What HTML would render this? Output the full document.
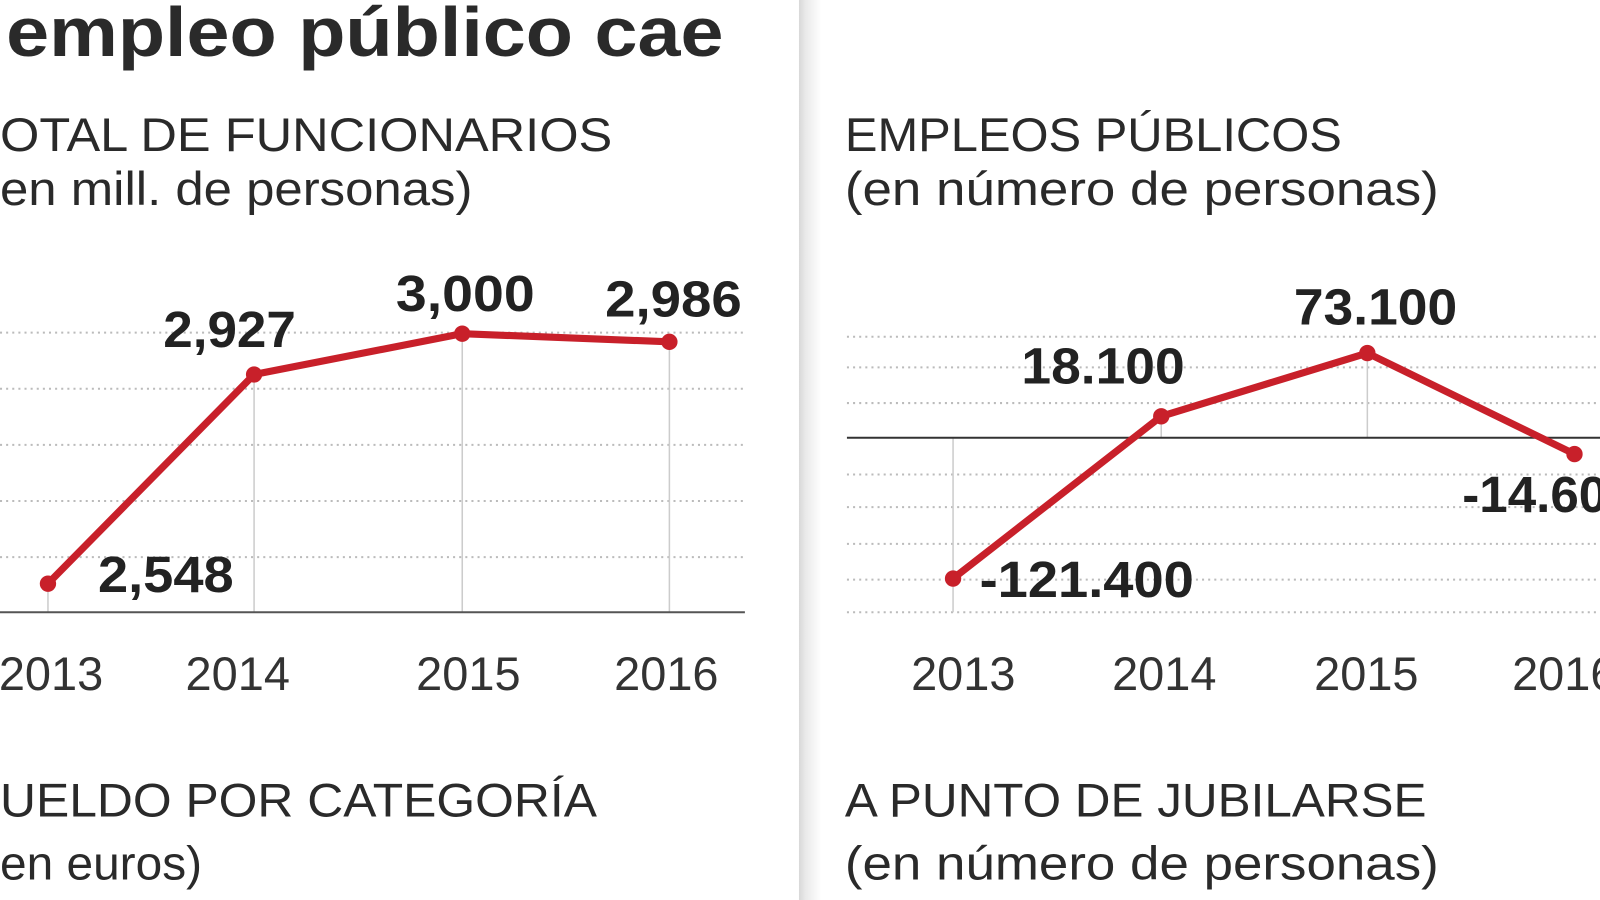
<!DOCTYPE html>
<html><head><meta charset="utf-8"><style>
html,body{margin:0;padding:0;background:#fff;overflow:hidden}
svg{display:block}
.h{font-family:"Liberation Sans",sans-serif;fill:#2a2a2a}
.n{font-family:"Liberation Sans Narrow","Liberation Sans",sans-serif;font-weight:bold;fill:#222}
.y{font-family:"Liberation Sans",sans-serif;fill:#333}
</style></head><body>
<svg width="1600" height="900" viewBox="0 0 1568 882" preserveAspectRatio="none">
<defs><linearGradient id="g" x1="0" x2="1"><stop offset="0" stop-color="#d8d8d8"/><stop offset="0.3" stop-color="#eaeaea"/><stop offset="1" stop-color="#fff"/></linearGradient></defs>
<rect x="0" y="0" width="1568" height="882" fill="#fff"/>
<rect x="783" y="0" width="22" height="882" fill="url(#g)"/>
<text class="h" x="6" y="55" font-size="68" font-weight="bold" textLength="703" lengthAdjust="spacingAndGlyphs">empleo público cae</text>
<text class="h" x="0" y="148" font-size="46" textLength="600" lengthAdjust="spacingAndGlyphs">OTAL DE FUNCIONARIOS</text>
<text class="h" x="0" y="201" font-size="46" textLength="463" lengthAdjust="spacingAndGlyphs">en mill. de personas)</text>
<text class="h" x="828" y="148" font-size="46" textLength="487" lengthAdjust="spacingAndGlyphs">EMPLEOS PÚBLICOS</text>
<text class="h" x="828" y="201" font-size="46" textLength="582" lengthAdjust="spacingAndGlyphs">(en número de personas)</text>
<text class="h" x="0" y="800" font-size="46" textLength="585" lengthAdjust="spacingAndGlyphs">UELDO POR CATEGORÍA</text>
<text class="h" x="0" y="862" font-size="46" textLength="198" lengthAdjust="spacingAndGlyphs">en euros)</text>
<text class="h" x="828" y="800" font-size="46" textLength="570" lengthAdjust="spacingAndGlyphs">A PUNTO DE JUBILARSE</text>
<text class="h" x="828" y="862" font-size="46" textLength="582" lengthAdjust="spacingAndGlyphs">(en número de personas)</text>
<g stroke="#bbb" stroke-width="2" stroke-dasharray="2,4">
<line x1="0" x2="730" y1="326" y2="326"/><line x1="0" x2="730" y1="381" y2="381"/><line x1="0" x2="730" y1="436" y2="436"/><line x1="0" x2="730" y1="491" y2="491"/><line x1="0" x2="730" y1="546" y2="546"/>
<line x1="830" x2="1568" y1="330" y2="330"/><line x1="830" x2="1568" y1="360" y2="360"/><line x1="830" x2="1568" y1="395" y2="395"/><line x1="830" x2="1568" y1="465" y2="465"/><line x1="830" x2="1568" y1="497" y2="497"/><line x1="830" x2="1568" y1="533" y2="533"/><line x1="830" x2="1568" y1="568" y2="568"/><line x1="830" x2="1568" y1="600" y2="600"/>
</g>
<g stroke="#ccc" stroke-width="1.5">
<line x1="47" x2="47" y1="572" y2="600"/><line x1="249" x2="249" y1="367" y2="600"/><line x1="453" x2="453" y1="327" y2="600"/><line x1="656" x2="656" y1="335" y2="600"/>
<line x1="934" x2="934" y1="429" y2="600"/><line x1="1138" x2="1138" y1="408" y2="429"/><line x1="1340" x2="1340" y1="346" y2="429"/>
</g>
<line x1="0" x2="730" y1="600" y2="600" stroke="#555" stroke-width="2"/>
<line x1="830" x2="1568" y1="429" y2="429" stroke="#333" stroke-width="2"/>
<g fill="none" stroke="#c8202a" stroke-width="7" stroke-linejoin="round">
<polyline points="47,572 249,367 453,327 656,335"/>
<polyline points="934,567 1138,408 1340,346 1543,445"/>
</g>
<g fill="#c8202a">
<circle cx="47" cy="572" r="8"/><circle cx="249" cy="367" r="8"/><circle cx="453" cy="327" r="8"/><circle cx="656" cy="335" r="8"/>
<circle cx="934" cy="567" r="8"/><circle cx="1138" cy="408" r="8"/><circle cx="1340" cy="346" r="8"/><circle cx="1543" cy="445" r="8"/>
</g>
<g class="n" font-size="50">
<text x="160" y="340" textLength="130" lengthAdjust="spacingAndGlyphs">2,927</text>
<text x="388" y="305" textLength="136" lengthAdjust="spacingAndGlyphs">3,000</text>
<text x="593" y="310" textLength="134" lengthAdjust="spacingAndGlyphs">2,986</text>
<text x="96" y="580" textLength="133" lengthAdjust="spacingAndGlyphs">2,548</text>
<text x="1001" y="376" textLength="160" lengthAdjust="spacingAndGlyphs">18.100</text>
<text x="1268" y="318" textLength="160" lengthAdjust="spacingAndGlyphs">73.100</text>
<text x="960" y="585" textLength="210" lengthAdjust="spacingAndGlyphs">-121.400</text>
<text x="1433" y="502" textLength="170" lengthAdjust="spacingAndGlyphs">-14.600</text>
</g>
<g class="y" font-size="46" text-anchor="middle">
<text x="50" y="676">2013</text><text x="233" y="676">2014</text><text x="459" y="676">2015</text><text x="653" y="676">2016</text>
<text x="944" y="676">2013</text><text x="1141" y="676">2014</text><text x="1339" y="676">2015</text><text x="1533" y="676">2016</text>
</g>
</svg>
</body></html>
